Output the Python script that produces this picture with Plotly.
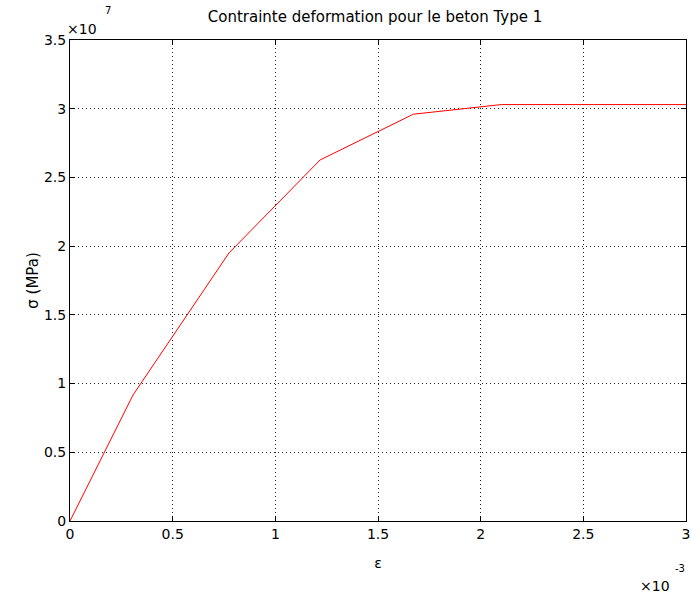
import plotly.graph_objects as go

# data (strain, stress in Pa)
strain = [0, 0.307e-3, 0.774e-3, 1.218e-3, 1.672e-3, 2.10e-3, 2.55e-3, 3.0e-3]
stress = [0, 0.917e7, 1.95e7, 2.627e7, 2.96e7, 3.03e7, 3.03e7, 3.03e7]

x_tickvals = [0, 0.5e-3, 1e-3, 1.5e-3, 2e-3, 2.5e-3, 3e-3]
x_ticktext = ["0", "0.5", "1", "1.5", "2", "2.5", "3"]
y_tickvals = [0, 0.5e7, 1e7, 1.5e7, 2e7, 2.5e7, 3e7, 3.5e7]
y_ticktext = ["0", "0.5", "1", "1.5", "2", "2.5", "3", "3.5"]

title_text = "Contrainte deformation pour le beton Type 1"
x_label = "ε"
y_label = "σ (MPa)"

FONT = "DejaVu Sans, Liberation Sans, sans-serif"

W, H = 691, 594
L, T, PW, PH = 70, 40, 616, 481

fig = go.Figure()
fig.add_trace(go.Scatter(x=strain, y=stress, mode="lines",
                         line=dict(color="red", width=1), showlegend=False,
                         hoverinfo="skip"))

axis_common = dict(showline=True, linecolor="black", linewidth=1, mirror="ticks",
                   ticks="inside", ticklen=5, tickcolor="black", automargin=False,
                   ticklabeloverflow="allow",
                   showgrid=True, gridcolor="#222222", gridwidth=1, griddash="1px,3px",
                   zeroline=False, tickfont=dict(family=FONT, size=14, color="black"))

fig.update_xaxes(range=[0, 3e-3], tickvals=x_tickvals, ticktext=x_ticktext,
                 title=dict(text=x_label, font=dict(family=FONT, size=14, color="black"), standoff=17),
                 **axis_common)
fig.update_yaxes(range=[0, 3.5e7], tickvals=y_tickvals, ticktext=y_ticktext,
                 title=dict(text=y_label, font=dict(family=FONT, size=15, color="black"), standoff=1),
                 **axis_common)

fig.update_layout(
    width=W, height=H,
    margin=dict(l=L, r=W - L - PW, t=T, b=H - T - PH),
    paper_bgcolor="white", plot_bgcolor="white",
    title=dict(text=title_text, xref="paper", x=(375 - L) / PW, xanchor="center",
               yref="container", y=1 - 17 / H, yanchor="middle",
               font=dict(family=FONT, size=15, color="black")),
)

# exponent labels (positions given in page pixels)
def px(xp):
    return (xp - L) / PW

def py(yp):
    return (T + PH - yp) / PH

fig.add_annotation(text="×10", xref="paper", yref="paper", x=px(82), y=py(29),
                   xanchor="center", yanchor="middle", showarrow=False,
                   font=dict(family=FONT, size=14, color="black"))
fig.add_annotation(text="7", xref="paper", yref="paper", x=px(108), y=py(10.5),
                   xanchor="center", yanchor="middle", showarrow=False,
                   font=dict(family=FONT, size=10, color="black"))
fig.add_annotation(text="×10", xref="paper", yref="paper", x=px(655), y=py(586),
                   xanchor="center", yanchor="middle", showarrow=False,
                   font=dict(family=FONT, size=14, color="black"))
fig.add_annotation(text="-3", xref="paper", yref="paper", x=px(680), y=py(568.5),
                   xanchor="center", yanchor="middle", showarrow=False,
                   font=dict(family=FONT, size=10, color="black"))

fig.write_html("out.html", config={"displayModeBar": False},
               post_script="document.body.style.margin='0';document.body.style.overflow='hidden';")
